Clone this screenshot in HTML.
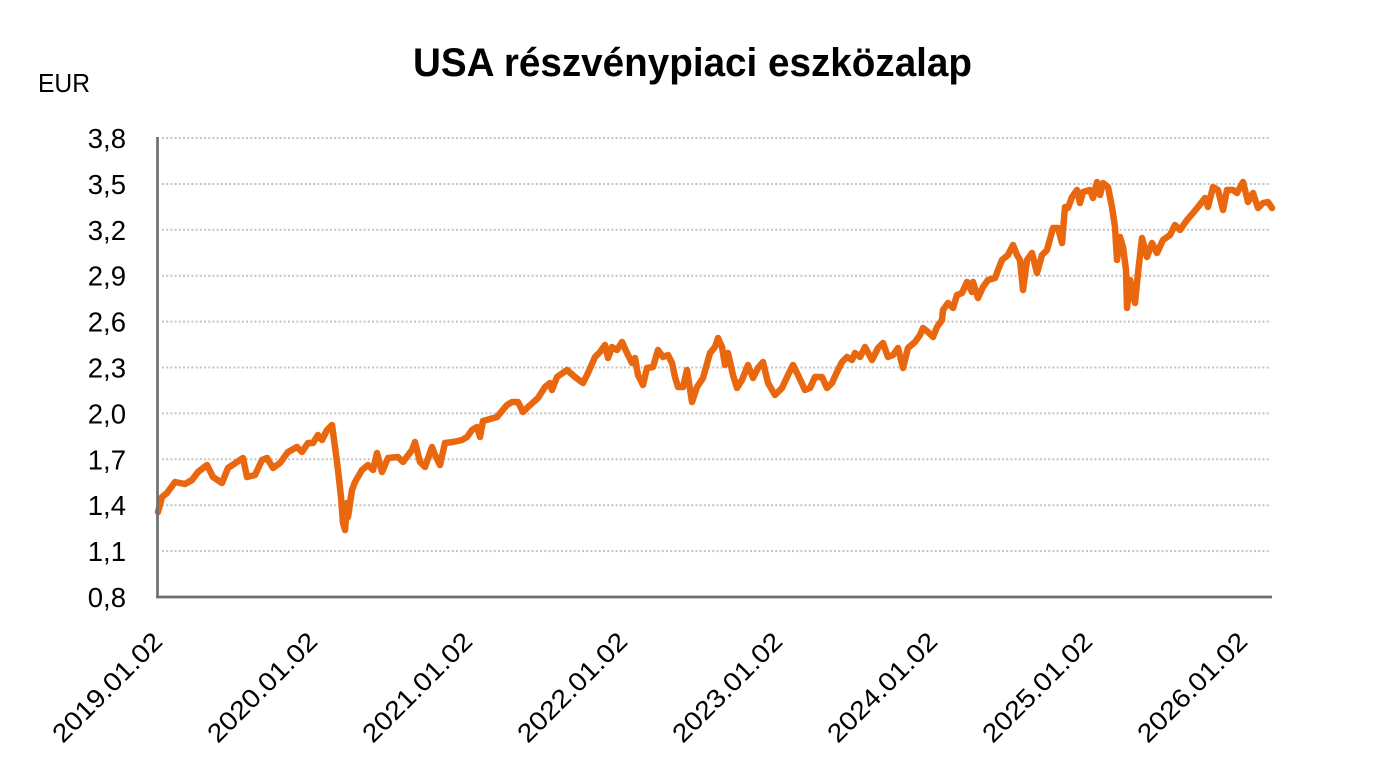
<!DOCTYPE html>
<html>
<head>
<meta charset="utf-8">
<style>
  html,body{margin:0;padding:0;background:#fff;}
  svg{display:block;}
</style>
</head>
<body>
<svg width="1381" height="774" viewBox="0 0 1381 774" xmlns="http://www.w3.org/2000/svg">
  <rect width="1381" height="774" fill="#ffffff"/>
  <!-- title -->
  <text x="413" y="76" font-family="'Liberation Sans', sans-serif" font-weight="bold" font-size="40" textLength="559" lengthAdjust="spacingAndGlyphs" fill="#000">USA részvénypiaci eszközalap</text>
  <text x="38" y="92" font-family="'Liberation Sans', sans-serif" font-size="26" fill="#000" textLength="52" lengthAdjust="spacingAndGlyphs">EUR</text>

  <!-- gridlines -->
  <g stroke="#c4c4c4" stroke-width="2" stroke-dasharray="2 2.2">
    <line x1="162" y1="138" x2="1271" y2="138"/>
    <line x1="162" y1="184" x2="1271" y2="184"/>
    <line x1="162" y1="229.8" x2="1271" y2="229.8"/>
    <line x1="162" y1="275.7" x2="1271" y2="275.7"/>
    <line x1="162" y1="321.6" x2="1271" y2="321.6"/>
    <line x1="162" y1="367.5" x2="1271" y2="367.5"/>
    <line x1="162" y1="413.4" x2="1271" y2="413.4"/>
    <line x1="162" y1="459.3" x2="1271" y2="459.3"/>
    <line x1="162" y1="505.2" x2="1271" y2="505.2"/>
    <line x1="162" y1="551.1" x2="1271" y2="551.1"/>
  </g>

  <!-- y labels -->
  <g font-family="'Liberation Sans', sans-serif" font-size="27.5" fill="#000" text-anchor="end">
    <text x="126" y="148">3,8</text>
    <text x="126" y="194">3,5</text>
    <text x="126" y="239.8">3,2</text>
    <text x="126" y="285.7">2,9</text>
    <text x="126" y="331.6">2,6</text>
    <text x="126" y="377.5">2,3</text>
    <text x="126" y="423.4">2,0</text>
    <text x="126" y="469.3">1,7</text>
    <text x="126" y="515.2">1,4</text>
    <text x="126" y="561.1">1,1</text>
    <text x="126" y="607">0,8</text>
  </g>

  <!-- x labels -->
  <g font-family="'Liberation Sans', sans-serif" font-size="26" fill="#000" text-anchor="end">
    <text transform="translate(164,643) rotate(-45)" textLength="143" lengthAdjust="spacingAndGlyphs">2019.01.02</text>
    <text transform="translate(319,643) rotate(-45)" textLength="143" lengthAdjust="spacingAndGlyphs">2020.01.02</text>
    <text transform="translate(474,643) rotate(-45)" textLength="143" lengthAdjust="spacingAndGlyphs">2021.01.02</text>
    <text transform="translate(629,643) rotate(-45)" textLength="143" lengthAdjust="spacingAndGlyphs">2022.01.02</text>
    <text transform="translate(784,643) rotate(-45)" textLength="143" lengthAdjust="spacingAndGlyphs">2023.01.02</text>
    <text transform="translate(939,643) rotate(-45)" textLength="143" lengthAdjust="spacingAndGlyphs">2024.01.02</text>
    <text transform="translate(1094,643) rotate(-45)" textLength="143" lengthAdjust="spacingAndGlyphs">2025.01.02</text>
    <text transform="translate(1249,643) rotate(-45)" textLength="143" lengthAdjust="spacingAndGlyphs">2026.01.02</text>
  </g>

  <!-- data line -->
  <polyline fill="none" stroke="#E9670F" stroke-width="6.5" stroke-linejoin="round" stroke-linecap="round"
    points="158,512 162,497 167,493 175,482 185,484 192,480 198,472 207,465 213,477 222,483 228,468 237,462 243,458 247,477 255,475 262,460 267,458 273,468 280,463 288,452 297,447 302,452 308,443 313,443 318,435 322,440 327,430 332,425 335,447 338,470 341,497 343,523 345,530 347,503 348,517 352,490 355,482 362,470 368,465 373,470 377,453 382,472 388,458 398,457 403,462 412,450 415,442 420,462 425,467 432,447 435,455 440,465 445,443 453,442 462,440 467,437 472,430 477,427 480,437 483,421 497,417 507,405 512,402 518,402 523,412 528,407 538,398 545,387 550,383 552,390 557,377 567,370 575,377 583,383 588,373 595,357 600,352 605,345 608,358 612,347 617,350 622,342 627,353 632,363 635,358 638,375 643,385 647,368 653,367 658,350 663,357 668,355 672,363 675,377 678,387 683,387 687,370 692,402 697,387 703,378 710,353 715,347 718,338 722,347 725,365 728,353 733,375 737,388 742,380 748,365 753,378 758,368 763,362 768,383 775,395 782,388 788,375 793,365 798,375 805,390 810,388 815,377 822,377 827,388 832,383 837,372 842,362 847,357 852,360 855,353 860,357 865,347 872,360 878,348 883,343 888,357 893,355 898,348 903,368 908,348 915,342 920,335 923,328 928,332 933,337 937,327 942,320 943,310 948,303 953,308 957,295 962,293 967,282 972,292 973,282 978,298 983,287 988,280 995,278 998,270 1002,260 1008,255 1013,245 1017,255 1020,260 1023,290 1027,260 1032,253 1037,273 1042,255 1047,250 1053,228 1058,228 1062,243 1065,207 1068,208 1072,197 1077,190 1080,203 1083,192 1090,190 1093,198 1097,182 1100,195 1103,183 1108,187 1112,207 1115,227 1117,260 1120,237 1123,247 1126,270 1127,308 1130,280 1135,303 1138,273 1142,238 1147,257 1152,243 1157,253 1163,240 1170,235 1175,225 1180,230 1187,220 1193,213 1198,207 1205,198 1208,207 1213,187 1218,190 1223,210 1227,190 1233,190 1237,193 1243,182 1248,202 1253,193 1258,208 1263,203 1268,202 1272,208"/>

  <!-- axes -->
  <line x1="157.5" y1="137" x2="157.5" y2="598" stroke="#6e6e6e" stroke-width="2.7"/>
  <line x1="156" y1="597" x2="1272" y2="597" stroke="#6e6e6e" stroke-width="2.7"/>
</svg>
</body>
</html>
